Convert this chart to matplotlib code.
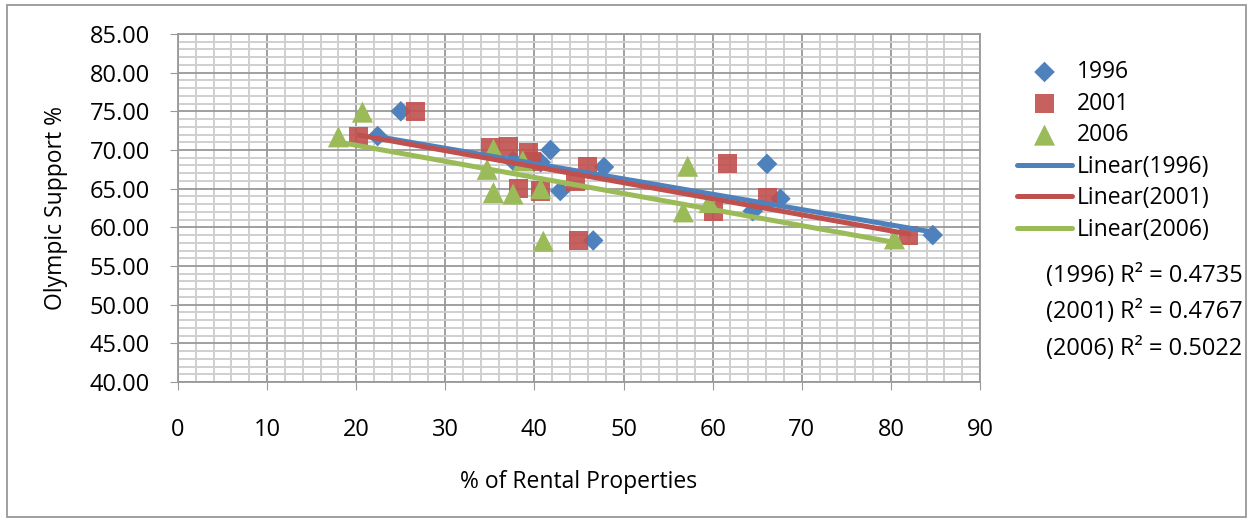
import numpy as np
import matplotlib.pyplot as plt
from matplotlib.ticker import MultipleLocator, FormatStrFormatter
from matplotlib.patches import Rectangle

plt.rcParams['font.family'] = ['Open Sans', 'DejaVu Sans']

# values
x_1996 = [25.0, 22.4, 41.8, 37.6, 40.7, 47.8, 42.9, 46.6, 66.1, 67.6, 64.5, 84.7]
y_1996 = [75.0, 71.8, 70.0, 68.6, 68.4, 67.8, 64.7, 58.3, 68.2, 63.7, 62.1, 59.0]

x_2001 = [26.7, 20.3, 35.1, 37.1, 39.3, 39.7, 46.0, 44.6, 38.2, 40.7, 44.9, 61.7, 60.1, 66.2, 82.0]
y_2001 = [75.0, 71.7, 70.3, 70.4, 69.7, 68.5, 67.9, 65.9, 65.0, 64.7, 58.3, 68.2, 62.1, 63.9, 58.9]

x_2006 = [20.7, 18.0, 35.4, 38.7, 34.7, 35.4, 37.6, 40.7, 41.0, 57.2, 56.7, 59.6, 80.4]
y_2006 = [74.9, 71.7, 70.1, 68.6, 67.5, 64.5, 64.3, 65.0, 58.2, 67.9, 62.0, 63.2, 58.5]

r2_labels = ["(1996) R\u00b2 = 0.4735", "(2001) R\u00b2 = 0.4767", "(2006) R\u00b2 = 0.5022"]

blue = '#4F81BD'
red = '#C0504D'
green = '#9BBB59'

fig = plt.figure(figsize=(12.53, 5.21), dpi=100)
ax = fig.add_axes([178/1253, 1-382/521, (980-178)/1253, (382-34)/521])

ax.scatter(x_1996, y_1996, marker='D', s=110, color=blue, edgecolors='none', label='1996', zorder=3)
ax.scatter(x_2001, y_2001, marker='s', s=190, color=red, alpha=0.9, edgecolors='none', label='2001', zorder=3)
ax.scatter(x_2006, y_2006, marker='^', s=230, color=green, edgecolors='none', label='2006', zorder=3)

for xs, ys, c, yr in [(x_1996, y_1996, blue, '1996'), (x_2001, y_2001, red, '2001'), (x_2006, y_2006, green, '2006')]:
    m, b = np.polyfit(xs, ys, 1)
    xx = np.array([min(xs), max(xs)])
    ax.plot(xx, m*xx + b, color=c, lw=3.6, solid_capstyle='round', label='Linear(' + yr + ')', zorder=4)

ax.set_xlim(0, 90)
ax.set_ylim(40, 85)
ax.xaxis.set_major_locator(MultipleLocator(10))
ax.xaxis.set_minor_locator(MultipleLocator(2))
ax.yaxis.set_major_locator(MultipleLocator(5))
ax.yaxis.set_minor_locator(MultipleLocator(1))
ax.yaxis.set_major_formatter(FormatStrFormatter('%.2f'))
ax.grid(which='major', color='#999999', lw=1.3, zorder=0)
ax.grid(which='minor', color='#cfcfcf', lw=1.4, zorder=0)
ax.set_axisbelow(True)
ax.tick_params(which='major', length=6, color='#999999', labelsize=17)
ax.tick_params(axis='x', pad=20)
ax.tick_params(axis='y', pad=14)
ax.tick_params(which='minor', length=0)
for s in ax.spines.values():
    s.set_color('#999999')
    s.set_linewidth(1.3)

ax.set_xlabel('% of Rental Properties', fontsize=16.5, labelpad=20)
ax.set_ylabel('Olympic Support %', fontsize=16.5, labelpad=16)

handles, labels = ax.get_legend_handles_labels()
order = [labels.index(l) for l in ['1996', '2001', '2006', 'Linear(1996)', 'Linear(2001)', 'Linear(2006)']]
fig.legend([handles[i] for i in order], [labels[i] for i in order],
           loc='upper left', bbox_to_anchor=(1017/1253, 1-60/521), frameon=False,
           fontsize=16.5, handlelength=2.4, handletextpad=0.2, labelspacing=0.33,
           borderaxespad=0, borderpad=0)

for i, t in enumerate(r2_labels):
    fig.text(1046/1253, 1-(276 + i*36.5)/521, t, fontsize=17, va='center', ha='left')

fig.patches.append(Rectangle((7/1253, 4/521), 1-14/1253, 1-9/521, transform=fig.transFigure,
                             fill=False, edgecolor='#999999', lw=1.3))

fig.savefig('out.png', dpi=100)
